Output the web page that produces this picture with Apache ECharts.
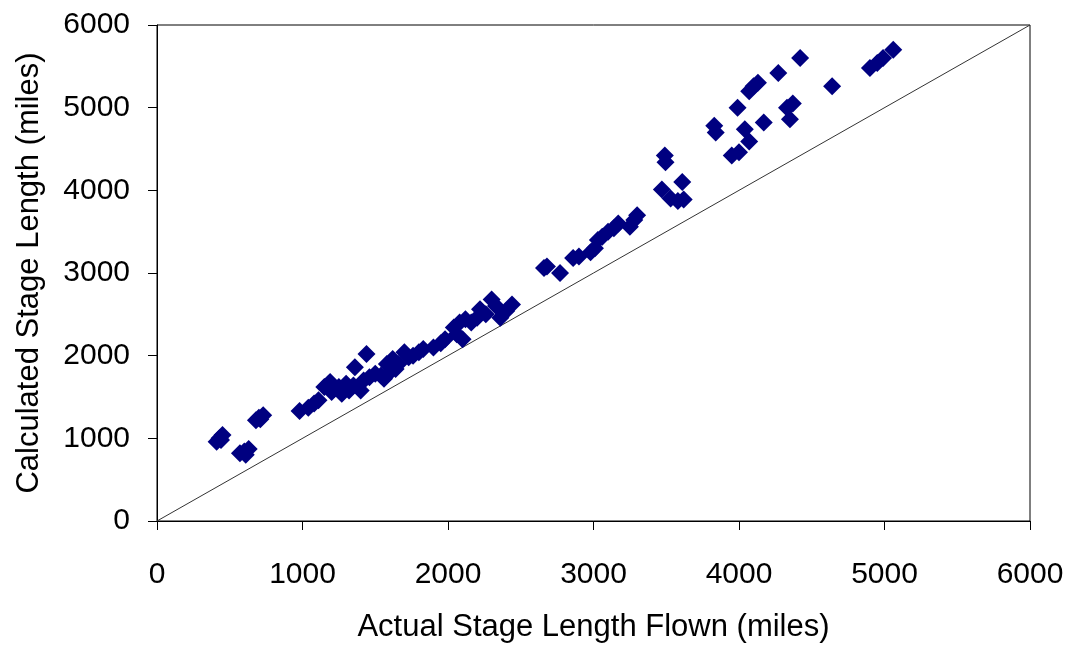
<!DOCTYPE html>
<html>
<head>
<meta charset="utf-8">
<script src="https://cdn.jsdelivr.net/npm/echarts@6/dist/echarts.min.js"></script>
<style>html,body{margin:0;padding:0;background:#fff}#c{width:1070px;height:648px}</style>
</head>
<body>
<div id="c"></div>
<script>
var actualFlown = [410,430,450,440, 570,600,630,610, 680,700,730,710, 980,1040,1080,1110,
  1150,1180,1200,1220,1190,1250,1270,1300,1320,1350,1360,1400,1420,1440,1460,1500,1540,1560,1580,1600,1620,1640,1660,
  1700,1730,1760,1800,1830,1900,1950,1980,2040,2060,2080,2100,2120,2160,2200,2220,2260,2300,2330,2360,2400,2440,
  2660,2680,2770,2860,2900,2980,3010,3030,3060,3100,3140,3170,3250,3280,3300,
  3470,3490,3495,3530,3580,3620,3610,
  3830,3840,3950,4000,3990,4040,4070,4070,4100,4130,4170,4270,4330,4370,4350,4420,4640,4900,4950,4990,5060];
var calculated = [960,1000,1040,980, 820,840,870,800, 1220,1250,1280,1230, 1330,1370,1420,1460,
  1620,1660,1560,1600,1680,1620,1540,1660,1580,1640,1860,1580,1700,2020,1740,1780,1760,1720,1900,1800,1960,1840,1900,
  2040,1980,2000,2040,2080,2100,2150,2200,2340,2260,2400,2200,2440,2400,2460,2560,2500,2680,2600,2460,2540,2620,
  3060,3080,3000,3180,3200,3250,3300,3400,3440,3500,3540,3600,3560,3640,3700,
  4010,4420,4340,3900,3870,3890,4100,
  4780,4700,4420,4460,5000,4740,4590,5200,5260,5300,4820,5420,5000,5050,4860,5600,5260,5480,5540,5600,5700];
var axisTicks = [0,1000,2000,3000,4000,5000,6000];
var refLine = [[0,0],[6000,6000]];

var points = actualFlown.map(function(x,i){return [x, calculated[i]];});
var chart = echarts.init(document.getElementById('c'), null, {renderer:'canvas'});
var font = 'Liberation Sans, Arial, sans-serif';
function axisCommon(name, gap, lblMargin, nameSize){
  return {
    type:'value', min:axisTicks[0], max:axisTicks[axisTicks.length-1], interval:1000,
    name:name, nameLocation:'middle', nameGap:gap,
    nameTextStyle:{fontFamily:font, fontSize:nameSize, color:'#000'},
    axisLine:{show:true, onZero:false, lineStyle:{color:'#000', width:1}},
    axisTick:{show:true, inside:false, length:9, lineStyle:{color:'#000'}},
    axisLabel:{fontFamily:font, fontSize:30, color:'#000', margin:lblMargin,
      formatter:function(v){return String(v);}},
    splitLine:{show:false}
  };
}
chart.setOption({
  animation:false,
  backgroundColor:'#fff',
  grid:{left:157, right:40, top:25, bottom:123, show:true, borderColor:'#000', borderWidth:1, containLabel:false},
  xAxis: axisCommon('Actual Stage Length Flown (miles)', 91, 39, 31),
  yAxis: axisCommon('Calculated Stage Length (miles)', 112, 27, 31),
  series:[
    {type:'line', data:refLine, symbol:'none', silent:true,
     lineStyle:{color:'#333', width:1}, z:1},
    {type:'scatter', data:points, symbol:'diamond', symbolSize:18,
     itemStyle:{color:'#000080', opacity:1}, z:2}
  ]
});
</script>
</body>
</html>
